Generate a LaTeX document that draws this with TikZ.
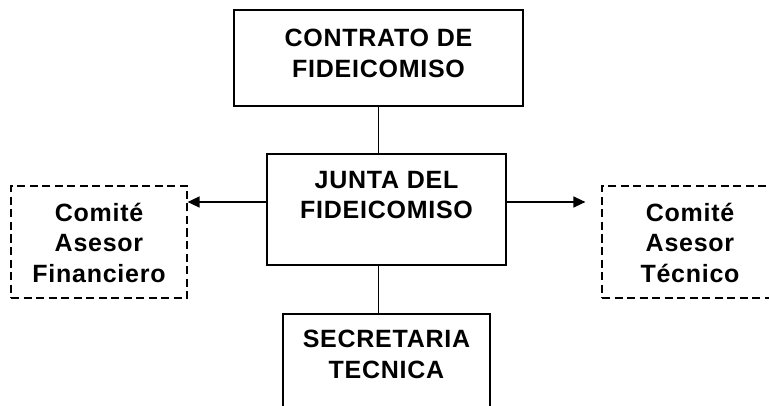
\documentclass[tikz,border=0pt]{standalone}
\usepackage{fontspec}
\setmainfont{Liberation Sans}[LetterSpace=3]
\usetikzlibrary{arrows.meta}
\begin{document}
\begin{tikzpicture}[x=1pt,y=1pt,
  box/.style={draw=black, line width=1.5pt, fill=white, inner sep=0pt},
  dbox/.style={draw=black, line width=1.2pt, dash pattern=on 8pt off 4.5pt, inner sep=0pt},
  txt/.style={anchor=north, inner sep=0pt, align=center, font=\fontsize{25}{30.5}\selectfont\bfseries},
  conn/.style={line width=1.5pt},
  arr/.style={line width=1.5pt, -{Triangle[length=12pt,width=11pt]}}]
\useasboundingbox (0,0) rectangle (769,405);
\clip (0,0) rectangle (769,405);
\fill[white] (0,0) rectangle (769,405);
% boxes (y = 405 - pixel row)
\node[box, minimum width=289pt, minimum height=96pt] (contrato) at (378.5,347) {};
\node[box, minimum width=239pt, minimum height=111pt] (junta) at (386.5,195.5) {};
\node[dbox, minimum width=176pt, minimum height=112pt] (financiero) at (99,163) {};
\node[dbox, minimum width=176pt, minimum height=112pt] (tecnico) at (690,163) {};
\node[box, minimum width=207pt, minimum height=112pt] (secretaria) at (386.5,35) {};
% texts
\node[txt] (contratoT) at (378.5,376) {CONTRATO DE\\FIDEICOMISO};
\node[txt] (juntaT) at (386.5,234) {JUNTA DEL\\FIDEICOMISO};
\node[txt] (financieroT) at (99,202.5) {Comité\\Asesor\\Financiero};
\node[txt] (tecnicoT) at (690,202.5) {Comité\\Asesor\\Técnico};
\node[txt] (secretariaT) at (386.5,75) {SECRETARIA\\TECNICA};
% connectors
\draw[conn] (contrato.south) -- (contrato.south |- junta.north);
\draw[conn] (junta.south -| contrato.south) -- (secretaria.north -| contrato.south);
\coordinate (jw) at ([yshift=7.5pt]junta.west);
\coordinate (je) at ([yshift=7.5pt]junta.east);
\draw[arr] (jw) -- (jw -| financiero.east);
\draw[arr] (je) -- ([xshift=-16pt]je -| tecnico.west);
\end{tikzpicture}
\end{document}
